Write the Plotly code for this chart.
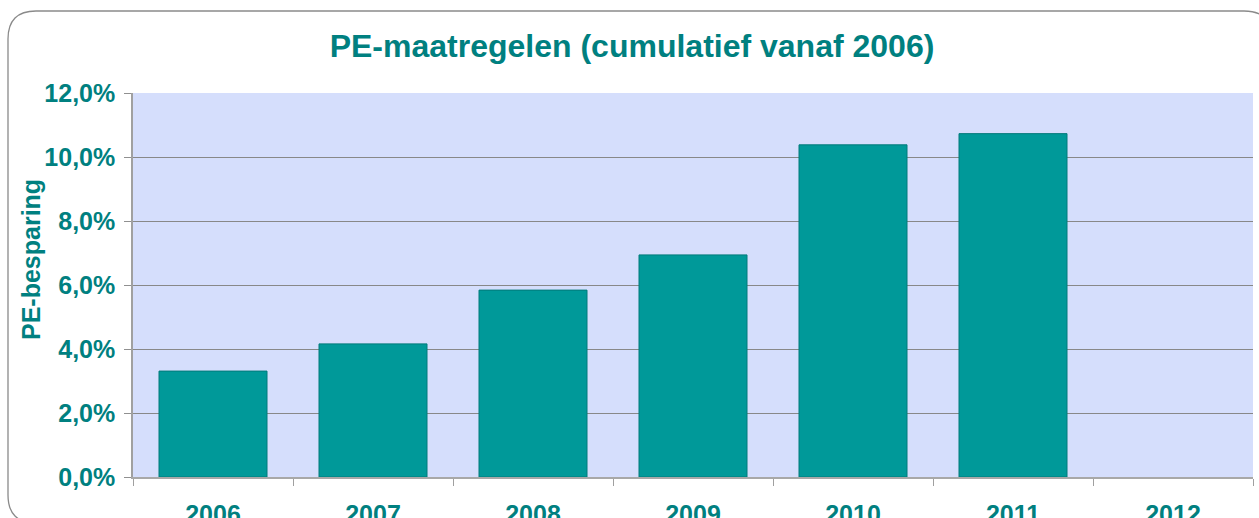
import plotly.graph_objects as go

years = ["2006", "2007", "2008", "2009", "2010", "2011", "2012"]
savings = [0.0331, 0.0416, 0.0584, 0.0694, 0.1038, 0.1073, None]
y_ticks = [0.0, 0.02, 0.04, 0.06, 0.08, 0.10, 0.12]

TEAL = "#008080"
W, H = 1259, 518
ML, MR, MT, MB = 133, 6, 93, 41
PW, PH = W - ML - MR, H - MT - MB


def px(x):
    return (x - ML) / PW


def py(y):
    return (H - MB - y) / PH


fig = go.Figure()
fig.add_trace(go.Bar(
    x=years, y=savings,
    marker=dict(color="#009999", line=dict(color="#007a7a", width=1)),
    hoverinfo="skip",
))

# rounded outer frame
L, T, R, B, r = 8, 11, 1272, 523, 28
path = (
    f"M {px(L)},{py(B - r)} L {px(L)},{py(T + r)} "
    f"Q {px(L)},{py(T)} {px(L + r)},{py(T)} "
    f"L {px(R - r)},{py(T)} Q {px(R)},{py(T)} {px(R)},{py(T + r)} "
    f"L {px(R)},{py(B - r)} Q {px(R)},{py(B)} {px(R - r)},{py(B)} "
    f"L {px(L + r)},{py(B)} Q {px(L)},{py(B)} {px(L)},{py(B - r)} Z"
)

fig.update_layout(
    width=W, height=H,
    margin=dict(l=ML, r=MR, t=MT, b=MB, pad=0, autoexpand=False),
    paper_bgcolor="white",
    plot_bgcolor="#D5DEFC",
    separators=",.",
    showlegend=False,
    bargap=0.325,
    font=dict(family="Liberation Sans, Arial, sans-serif", color=TEAL),
    title=dict(
        text="<b>PE-maatregelen (cumulatief vanaf 2006)</b>",
        x=0.502, xref="container", xanchor="center",
        y=1 - 46 / H, yref="container", yanchor="middle",
        font=dict(size=32, color=TEAL),
    ),
    shapes=[dict(type="path", path=path, xref="paper", yref="paper",
                 line=dict(color="#8a8a8a", width=1.3), layer="below")],
    annotations=[dict(
        text="<b>PE-besparing</b>", textangle=-90, showarrow=False,
        xref="paper", yref="paper", x=px(31), y=py(260),
        xanchor="center", yanchor="middle",
        font=dict(size=25, color=TEAL),
    )],
    xaxis=dict(
        type="category", categoryorder="array", categoryarray=years,
        tickson="boundaries", ticks="outside", ticklen=7, tickcolor="#a0a0a0",
        showline=True, linecolor="#a8a8a8", linewidth=1.5,
        showgrid=False, ticklabelstandoff=14, automargin=False,
        tickfont=dict(size=25, color=TEAL),
        tickvals=years, ticktext=[f"<b>{y}</b>" for y in years],
        range=[-0.5, 6.5],
    ),
    yaxis=dict(
        range=[0, 0.12], tickvals=y_ticks,
        ticktext=[f"<b>{v*100:.1f}%</b>".replace(".", ",") for v in y_ticks],
        ticks="outside", ticklen=7, tickcolor="#909090",
        showline=True, linecolor="#a0a0a0", linewidth=1.5,
        showgrid=True, gridcolor="#888888", gridwidth=1,
        zeroline=False, automargin=False, ticklabelstandoff=4,
        tickfont=dict(size=25, color=TEAL),
    ),
)

fig.write_html("out.html", config={"displayModeBar": False},
               post_script="document.body.style.margin='0';")
